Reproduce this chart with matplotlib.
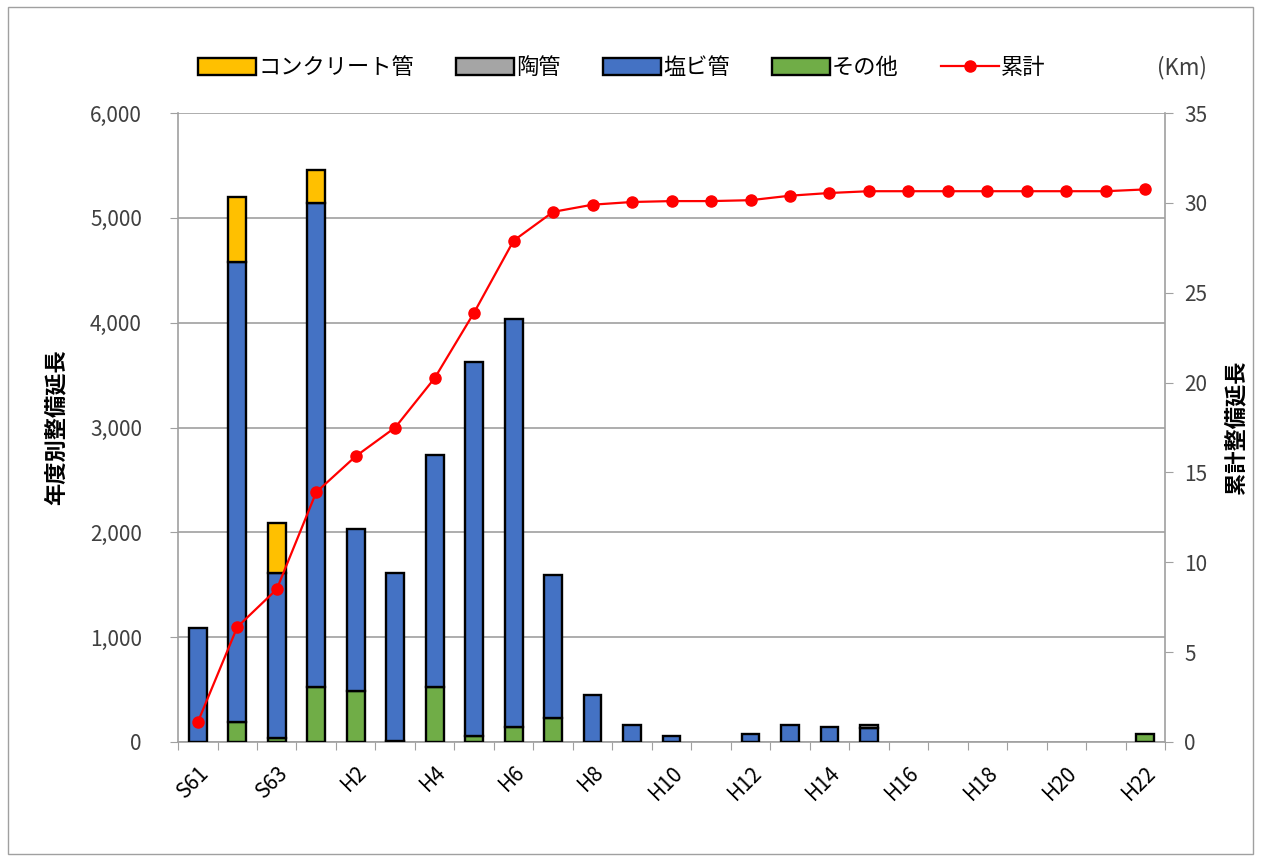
import matplotlib
matplotlib.use("Agg")
import matplotlib.pyplot as plt
import numpy as np
from matplotlib.patches import Rectangle, Patch

plt.rcParams['font.family'] = ['Noto Sans CJK JP', 'DejaVu Sans']

years = ["S61", "S62", "S63", "H1", "H2", "H3", "H4", "H5", "H6", "H7", "H8", "H9",
         "H10", "H11", "H12", "H13", "H14", "H15", "H16", "H17", "H18", "H19", "H20", "H21", "H22"]
other = [0, 190, 40, 525, 485, 10, 525, 57, 143, 229, 0, 0,
         0, 0, 0, 0, 0, 0, 0, 0, 0, 0, 0, 0, 75]
pvc = [1090, 4390, 1570, 4615, 1545, 1600, 2215, 3570, 3890, 1365, 448, 162,
       57, 0, 75, 165, 143, 135, 0, 0, 0, 0, 0, 0, 0]
clay = [0, 0, 0, 0, 0, 0, 0, 0, 0, 0, 0, 0,
        0, 0, 0, 0, 0, 30, 0, 0, 0, 0, 0, 0, 0]
concrete = [0, 620, 480, 315, 0, 0, 0, 0, 0, 0, 0, 0,
            0, 0, 0, 0, 0, 0, 0, 0, 0, 0, 0, 0, 0]
cumulative = [1.1, 6.4, 8.5, 13.9, 15.9, 17.5, 20.25, 23.9, 27.9, 29.5, 29.9, 30.05,
              30.1, 30.1, 30.15, 30.4, 30.55, 30.65, 30.65, 30.65, 30.65, 30.65, 30.65, 30.65, 30.75]

c_conc = "#FFC000"
c_clay = "#A5A5A5"
c_pvc = "#4472C4"
c_other = "#70AD47"

fig = plt.figure(figsize=(12.61, 8.57), dpi=100)
fig.patches.append(Rectangle((0.006, 0.004), 0.988, 0.988, transform=fig.transFigure,
                             fill=False, edgecolor="#a0a0a0", linewidth=1.0))
ax = fig.add_axes([0.1412, 0.1342, 0.7827, 0.7339])
x = np.arange(len(years))
w = 0.45
o = np.array(other, float)
p = np.array(pvc, float)
c = np.array(clay, float)
k = np.array(concrete, float)
ekw = dict(edgecolor="black", linewidth=1.7, width=w, zorder=3)

def masked(vals):
    return [v if v > 0 else np.nan for v in vals]

ax.bar(x, masked(o), bottom=0, color=c_other, **ekw)
ax.bar(x, masked(p), bottom=o, color=c_pvc, **ekw)
ax.bar(x, masked(c), bottom=o + p, color=c_clay, **ekw)
ax.bar(x, masked(k), bottom=o + p + c, color=c_conc, **ekw)

ax.set_xlim(-0.5, len(years) - 0.5)
ax.set_ylim(0, 6000)
ax.set_yticks(range(0, 6001, 1000))
ax.set_yticklabels([f"{v:,}" for v in range(0, 6001, 1000)], fontsize=15, color="#404040")
ax.yaxis.grid(True, color="#a0a0a0", linewidth=1.2, zorder=0)
ax.set_axisbelow(True)
ax.set_xticks(np.arange(-0.5, len(years), 1))
ax.set_xticklabels([])
ax.set_xticks(x[::2], minor=True)
ax.set_xticklabels(years[::2], minor=True, rotation=45, ha="right", rotation_mode="anchor",
                   fontsize=15)
ax.tick_params(axis="x", which="major", length=6, color="#a0a0a0", direction="out")
ax.tick_params(axis="x", which="minor", length=0, pad=14)
ax.tick_params(axis="y", length=6, color="#a0a0a0", pad=20)
for s in ["top", "right"]:
    ax.spines[s].set_visible(False)
for s in ["left", "bottom"]:
    ax.spines[s].set_color("#a0a0a0")
    ax.spines[s].set_linewidth(1.2)
ax.set_ylabel("年度別整備延長", fontsize=16, fontweight="bold", labelpad=16)

ax2 = ax.twinx()
ax2.set_ylim(0, 35)
ax2.set_yticks(range(0, 36, 5))
ax2.set_yticklabels([str(v) for v in range(0, 36, 5)], fontsize=15, color="#404040")
ax2.tick_params(axis="y", length=6, color="#a0a0a0", pad=8)
for s in ["top", "left", "bottom"]:
    ax2.spines[s].set_visible(False)
ax2.spines["right"].set_color("#a0a0a0")
ax2.spines["right"].set_linewidth(1.2)
line, = ax2.plot(x, cumulative, color="#FF0000", marker="o", markersize=8, linewidth=1.6, zorder=5)
ax2.set_ylabel("累計整備延長", fontsize=16, fontweight="bold", rotation=90, labelpad=12)

labels = ["コンクリート管", "陶管", "塩ビ管", "その他", "累計"]
hp = [Patch(facecolor=c_conc, edgecolor="black", linewidth=1.7),
      Patch(facecolor=c_clay, edgecolor="black", linewidth=1.7),
      Patch(facecolor=c_pvc, edgecolor="black", linewidth=1.7),
      Patch(facecolor=c_other, edgecolor="black", linewidth=1.7),
      line]
fig.legend(hp, labels, loc="center", bbox_to_anchor=(0.493, 0.921), ncol=5, frameon=False,
           fontsize=16, handlelength=2.6, handleheight=0.8, handletextpad=0.1, columnspacing=1.9)
fig.text(0.937, 0.921, "(Km)", fontsize=16, ha="center", va="center", color="#404040")

fig.savefig("out.png", dpi=100)
